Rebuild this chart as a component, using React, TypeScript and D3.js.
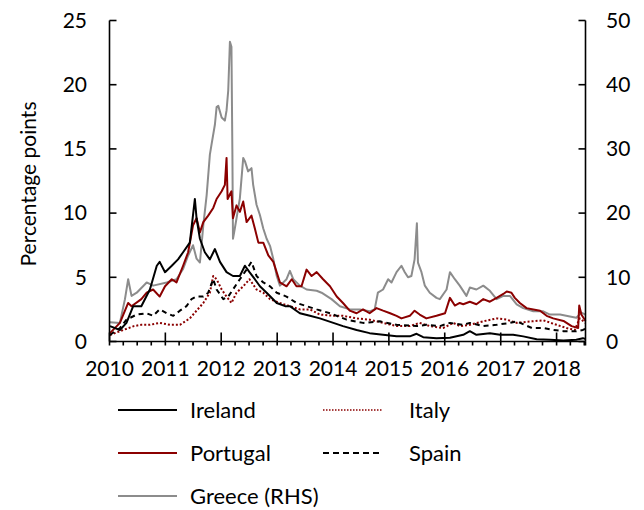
import React, { useEffect, useRef } from 'react';
import * as d3 from 'd3';

// spreads (percentage points); Greece is on the right-hand scale
const ireland: [string, number][] = [
  ['2010-01-04', 1.2], ['2010-03-10', 0.9], ['2010-04-22', 1.45], ['2010-06-05', 2.75], ['2010-07-28', 2.75],
  ['2010-09-22', 4.05], ['2010-11-06', 5.9], ['2010-11-25', 6.2], ['2010-12-30', 5.4], ['2011-02-12', 5.9],
  ['2011-03-25', 6.4], ['2011-04-27', 6.95], ['2011-06-10', 7.7], ['2011-07-13', 11.1], ['2011-07-24', 9.6],
  ['2011-08-15', 8.0], ['2011-09-16', 6.95], ['2011-10-19', 6.4], ['2011-11-21', 7.2], ['2011-12-24', 6.2],
  ['2012-02-05', 5.4], ['2012-03-18', 5.1], ['2012-05-02', 5.1], ['2012-06-04', 5.9], ['2012-07-04', 5.4],
  ['2012-08-08', 4.85], ['2012-09-10', 4.3], ['2012-10-24', 3.8], ['2012-12-29', 3.0], ['2013-02-22', 2.75],
  ['2013-03-25', 2.75], ['2013-05-29', 2.2], ['2013-08-03', 2.0], ['2013-10-07', 1.8], ['2014-01-03', 1.45],
  ['2014-03-07', 1.2], ['2014-06-04', 0.9], ['2014-08-28', 0.65], ['2014-11-24', 0.52], ['2015-02-20', 0.4],
  ['2015-05-18', 0.4], ['2015-07-01', 0.6], ['2015-08-13', 0.34], ['2015-11-08', 0.26], ['2016-02-04', 0.3],
  ['2016-05-01', 0.52], ['2016-06-13', 0.8], ['2016-07-26', 0.52], ['2016-10-22', 0.65], ['2016-12-28', 0.52],
  ['2017-03-23', 0.52], ['2017-05-28', 0.4], ['2017-08-24', 0.18], ['2017-11-19', 0.13], ['2018-02-15', 0.08],
  ['2018-05-10', 0.13], ['2018-06-22', 0.26], ['2018-07-09', 0.2],
];

const italy: [string, number][] = [
  ['2010-01-04', 0.5], ['2010-03-10', 0.8], ['2010-06-10', 1.2], ['2010-07-28', 1.3], ['2010-09-22', 1.3],
  ['2010-11-25', 1.45], ['2011-02-01', 1.3], ['2011-04-06', 1.3], ['2011-06-10', 1.8], ['2011-07-24', 2.4],
  ['2011-09-06', 3.0], ['2011-10-19', 3.8], ['2011-11-10', 5.1], ['2011-12-02', 4.85], ['2012-01-04', 4.05],
  ['2012-02-05', 3.5], ['2012-03-08', 3.0], ['2012-04-10', 3.8], ['2012-05-24', 4.3], ['2012-07-04', 4.85],
  ['2012-08-19', 4.05], ['2012-10-02', 3.8], ['2012-11-15', 3.3], ['2013-01-19', 3.0], ['2013-03-25', 2.75],
  ['2013-05-29', 2.5], ['2013-08-03', 2.5], ['2013-10-07', 2.1], ['2014-01-03', 2.0], ['2014-03-07', 2.0],
  ['2014-06-04', 1.8], ['2014-08-28', 1.7], ['2014-11-24', 1.45], ['2015-02-20', 1.2], ['2015-05-18', 1.2],
  ['2015-07-21', 1.45], ['2015-09-25', 1.2], ['2015-12-21', 1.05], ['2016-02-26', 1.45], ['2016-04-08', 1.2],
  ['2016-06-13', 1.3], ['2016-09-09', 1.57], ['2016-12-05', 1.8], ['2017-02-09', 1.7], ['2017-04-15', 1.45],
  ['2017-07-24', 1.57], ['2017-10-06', 1.65], ['2018-01-01', 1.3], ['2018-03-07', 1.05], ['2018-04-30', 0.9],
  ['2018-06-01', 1.8], ['2018-07-09', 1.45],
];

const portugal: [string, number][] = [
  ['2010-01-04', 0.65], ['2010-03-10', 1.45], ['2010-05-03', 3.0], ['2010-05-25', 2.75], ['2010-07-28', 3.3],
  ['2010-09-01', 3.8], ['2010-10-13', 4.05], ['2010-11-25', 3.5], ['2010-12-30', 4.3], ['2011-02-12', 4.85],
  ['2011-03-15', 4.6], ['2011-04-27', 5.9], ['2011-05-30', 6.95], ['2011-07-01', 9.05], ['2011-07-24', 9.6],
  ['2011-08-15', 8.5], ['2011-09-06', 9.3], ['2011-10-08', 9.8], ['2011-11-10', 10.4], ['2011-12-02', 11.1],
  ['2012-01-04', 11.7], ['2012-01-25', 12.2], ['2012-02-05', 14.3], ['2012-02-12', 11.1], ['2012-03-08', 11.7],
  ['2012-03-18', 9.6], ['2012-04-10', 10.6], ['2012-05-02', 10.1], ['2012-05-24', 10.9], ['2012-06-15', 9.3],
  ['2012-07-17', 9.8], ['2012-08-08', 8.8], ['2012-08-31', 7.7], ['2012-10-02', 7.7], ['2012-11-04', 6.7],
  ['2012-12-07', 6.2], ['2013-01-19', 4.6], ['2013-03-03', 4.3], ['2013-04-06', 4.85], ['2013-05-07', 4.3],
  ['2013-06-09', 4.3], ['2013-07-12', 5.6], ['2013-08-14', 5.1], ['2013-09-16', 5.4], ['2013-10-28', 4.85],
  ['2013-12-12', 4.3], ['2014-01-25', 3.5], ['2014-03-07', 3.0], ['2014-04-20', 2.4], ['2014-06-04', 2.2],
  ['2014-07-16', 2.5], ['2014-08-28', 2.2], ['2014-10-12', 2.6], ['2014-11-24', 2.4], ['2015-01-09', 2.2],
  ['2015-02-20', 2.0], ['2015-03-24', 1.8], ['2015-05-18', 2.0], ['2015-06-18', 2.4], ['2015-07-21', 2.1],
  ['2015-09-03', 1.8], ['2015-11-08', 2.0], ['2016-01-03', 2.2], ['2016-02-04', 3.4], ['2016-03-07', 2.8],
  ['2016-04-08', 3.0], ['2016-05-01', 2.9], ['2016-06-13', 3.1], ['2016-07-26', 2.9], ['2016-09-09', 3.3],
  ['2016-10-22', 3.1], ['2016-12-05', 3.4], ['2017-01-18', 3.7], ['2017-02-09', 3.9], ['2017-03-12', 3.8],
  ['2017-04-03', 3.4], ['2017-05-06', 3.0], ['2017-06-19', 2.6], ['2017-08-02', 2.5], ['2017-09-15', 2.4],
  ['2017-10-28', 2.0], ['2017-12-10', 1.8], ['2018-02-15', 1.6], ['2018-04-09', 1.2], ['2018-05-22', 1.05],
  ['2018-05-29', 2.8], ['2018-06-12', 2.1], ['2018-07-09', 1.6],
];

const spain: [string, number][] = [
  ['2010-01-04', 0.52], ['2010-03-10', 1.05], ['2010-04-22', 1.7], ['2010-06-28', 2.1], ['2010-09-01', 2.2],
  ['2010-10-13', 2.0], ['2010-11-25', 2.5], ['2011-01-10', 2.2], ['2011-02-22', 2.0], ['2011-04-06', 2.4],
  ['2011-05-19', 2.75], ['2011-06-21', 3.3], ['2011-07-24', 3.5], ['2011-09-06', 3.5], ['2011-10-08', 3.8],
  ['2011-11-10', 4.85], ['2011-12-02', 4.05], ['2012-01-15', 3.3], ['2012-02-16', 3.5], ['2012-03-18', 4.05],
  ['2012-05-02', 4.85], ['2012-06-15', 5.6], ['2012-07-17', 6.2], ['2012-08-19', 5.1], ['2012-10-02', 4.6],
  ['2012-11-15', 4.3], ['2012-12-29', 3.8], ['2013-03-03', 3.5], ['2013-05-07', 3.0], ['2013-07-12', 2.75],
  ['2013-09-16', 2.5], ['2013-12-12', 2.2], ['2014-03-31', 1.7], ['2014-07-16', 1.45], ['2014-11-03', 1.57],
  ['2015-02-20', 1.3], ['2015-07-01', 1.2], ['2015-09-03', 1.3], ['2015-11-30', 1.2], ['2016-02-04', 1.45],
  ['2016-05-01', 1.3], ['2016-06-13', 1.45], ['2016-09-09', 1.2], ['2016-12-05', 1.3], ['2017-03-02', 1.45],
  ['2017-04-15', 1.57], ['2017-07-24', 1.05], ['2017-10-06', 1.05], ['2017-12-10', 0.9], ['2018-02-15', 0.8],
  ['2018-05-10', 0.8], ['2018-06-22', 0.9], ['2018-07-09', 1.0],
];

const greece: [string, number][] = [
  ['2010-01-04', 3.0], ['2010-03-10', 2.9], ['2010-04-12', 6.6], ['2010-05-03', 9.7], ['2010-05-25', 7.1],
  ['2010-06-28', 7.6], ['2010-09-01', 9.2], ['2010-10-13', 8.7], ['2011-01-10', 9.2], ['2011-03-15', 9.7],
  ['2011-04-27', 11.3], ['2011-05-30', 13.4], ['2011-07-01', 15.0], ['2011-07-24', 12.9], ['2011-08-15', 12.3],
  ['2011-09-06', 18.1], ['2011-09-28', 22.8], ['2011-10-19', 29.1], ['2011-10-30', 30.7], ['2011-11-21', 33.8],
  ['2011-12-02', 36.5], ['2011-12-13', 36.7], ['2012-01-04', 34.9], ['2012-01-25', 34.4], ['2012-02-05', 36.0],
  ['2012-02-16', 39.1], ['2012-02-27', 46.7], ['2012-03-08', 45.9], ['2012-03-14', 30.0], ['2012-03-18', 16.0],
  ['2012-03-30', 17.6], ['2012-05-02', 22.3], ['2012-05-24', 28.6], ['2012-06-04', 28.1], ['2012-06-25', 26.5],
  ['2012-07-17', 27.0], ['2012-07-28', 24.4], ['2012-08-19', 21.3], ['2012-09-10', 19.7], ['2012-10-02', 17.6],
  ['2012-10-24', 16.0], ['2012-11-15', 14.9], ['2012-12-07', 12.8], ['2012-12-29', 10.2], ['2013-01-19', 8.7],
  ['2013-03-03', 9.7], ['2013-03-25', 11.0], ['2013-04-16', 9.7], ['2013-05-29', 8.7], ['2013-07-12', 8.1],
  ['2013-09-16', 7.9], ['2013-10-18', 7.6], ['2013-12-22', 6.6], ['2014-02-15', 5.5], ['2014-04-20', 5.0],
  ['2014-06-25', 5.0], ['2014-08-28', 4.7], ['2014-09-30', 5.0], ['2014-10-21', 7.6], ['2014-11-24', 8.1],
  ['2014-12-27', 9.7], ['2015-01-18', 9.2], ['2015-02-20', 10.8], ['2015-03-24', 11.8], ['2015-04-15', 10.8],
  ['2015-05-06', 10.0], ['2015-05-28', 10.2], ['2015-06-18', 12.8], ['2015-07-03', 18.4], ['2015-07-10', 12.3],
  ['2015-08-02', 10.8], ['2015-08-24', 8.7], ['2015-09-25', 7.6], ['2015-11-08', 6.8], ['2015-11-30', 6.6],
  ['2016-01-13', 8.1], ['2016-02-04', 10.8], ['2016-03-07', 9.7], ['2016-04-08', 8.7], ['2016-05-22', 7.1],
  ['2016-06-13', 8.4], ['2016-07-26', 8.1], ['2016-09-09', 8.7], ['2016-10-22', 7.9], ['2016-12-05', 6.6],
  ['2017-01-18', 7.1], ['2017-03-02', 7.1], ['2017-04-15', 5.8], ['2017-05-28', 5.2], ['2017-08-02', 4.7],
  ['2017-10-06', 4.7], ['2017-11-19', 4.2], ['2018-01-24', 4.2], ['2018-03-29', 3.9], ['2018-05-10', 3.7],
  ['2018-06-12', 4.5], ['2018-07-09', 4.2],
];

const yearLabels = ['2010', '2011', '2012', '2013', '2014', '2015', '2016', '2017', '2018'];
const leftTicks = [0, 5, 10, 15, 20, 25];
const rightTicks = [0, 10, 20, 30, 40, 50];

const series = [
  { name: 'Greece (RHS)', data: greece, rhs: true, color: '#8c8c8c', dash: null },
  { name: 'Italy', data: italy, rhs: false, color: '#8b0000', dash: '2,2' },
  { name: 'Spain', data: spain, rhs: false, color: '#000000', dash: '5,4' },
  { name: 'Portugal', data: portugal, rhs: false, color: '#8b0000', dash: null },
  { name: 'Ireland', data: ireland, rhs: false, color: '#000000', dash: null },
];

// legend layout: [series name, column, row]
const legendOrder: [string, number, number][] = [
  ['Ireland', 0, 0], ['Italy', 1, 0], ['Portugal', 0, 1], ['Spain', 1, 1], ['Greece (RHS)', 0, 2],
];

const FONT = 'Lato, "Open Sans", sans-serif';

const App = () => {
  const ref = useRef<SVGSVGElement | null>(null);

  useEffect(() => {
    const svg = d3.select(ref.current);
    svg.selectAll('*').remove();

    const left = 109.5, right = 585.5, top = 20.5, bottom = 341.5;
    const parse = d3.timeParse('%Y-%m-%d');
    const start = new Date(2010, 0, 1);
    const end = new Date(2018, 6, 9);

    const x = d3.scaleTime().domain([start, end]).range([left, right]);
    const yL = d3.scaleLinear().domain([0, 25]).range([bottom, top]);
    const yR = d3.scaleLinear().domain([0, 50]).range([bottom, top]);

    // series
    series.forEach(s => {
      const y = s.rhs ? yR : yL;
      const line = d3.line<[string, number]>()
        .x(d => x(parse(d[0]) as Date))
        .y(d => y(d[1]));
      svg.append('path')
        .datum(s.data)
        .attr('fill', 'none')
        .attr('stroke', s.color)
        .attr('stroke-width', 2)
        .attr('stroke-linejoin', 'round')
        .attr('stroke-dasharray', s.dash)
        .attr('d', line);
    });

    // axes lines
    const ax = svg.append('g').attr('stroke', '#000').attr('stroke-width', 1.6);
    ax.append('line').attr('x1', left).attr('x2', left).attr('y1', top).attr('y2', bottom);
    ax.append('line').attr('x1', right).attr('x2', right).attr('y1', top).attr('y2', bottom);
    ax.append('line').attr('x1', left).attr('x2', right).attr('y1', bottom).attr('y2', bottom);

    leftTicks.forEach(t => {
      ax.append('line').attr('x1', left).attr('x2', left + 7).attr('y1', yL(t)).attr('y2', yL(t));
    });
    rightTicks.forEach(t => {
      ax.append('line').attr('x1', right - 7).attr('x2', right).attr('y1', yR(t)).attr('y2', yR(t));
    });

    const quarters = d3.timeMonth.every(3)!.range(start, end);
    quarters.forEach(q => {
      const major = q.getMonth() === 0;
      ax.append('line')
        .attr('x1', x(q)).attr('x2', x(q))
        .attr('y1', major ? bottom - 9 : bottom)
        .attr('y2', bottom + 4);
    });
    ax.append('line').attr('x1', right).attr('x2', right).attr('y1', bottom).attr('y2', bottom + 4);

    const txt = svg.append('g').attr('font-family', FONT).attr('font-size', 21).attr('fill', '#000');

    leftTicks.forEach(t => {
      txt.append('text').attr('x', 87).attr('y', yL(t)).attr('dy', '0.35em')
        .attr('text-anchor', 'end').text(t);
    });
    rightTicks.forEach(t => {
      txt.append('text').attr('x', 606).attr('y', yR(t)).attr('dy', '0.35em')
        .attr('text-anchor', 'start').text(t);
    });
    yearLabels.forEach(l => {
      txt.append('text').attr('x', x(new Date(+l, 0, 1))).attr('y', 376)
        .attr('text-anchor', 'middle').text(l);
    });

    txt.append('text')
      .attr('transform', 'translate(36,184) rotate(-90)')
      .attr('text-anchor', 'middle')
      .attr('font-size', 21)
      .text('Percentage points');

    // legend
    const colX = [118, 323];
    const textX = [190, 409];
    const rowY = [410, 453, 496];
    legendOrder.forEach(([name, c, r]) => {
      const s = series.find(d => d.name === name)!;
      svg.append('line')
        .attr('x1', colX[c]).attr('x2', colX[c] + 59)
        .attr('y1', rowY[r]).attr('y2', rowY[r])
        .attr('stroke', s.color)
        .attr('stroke-width', s.dash === '2,2' ? 1.5 : 1.8)
        .attr('stroke-dasharray', s.dash === '2,2' ? '1.5,1.5' : s.dash ? '6,4' : null);
      txt.append('text').attr('x', textX[c]).attr('y', rowY[r]).attr('dy', '0.35em')
        .attr('font-size', 22).text(name);
    });
  }, []);

  return (
    <svg ref={ref} width={644} height={510}
      style={{ position: 'absolute', left: 0, top: 0, background: '#fff' }} />
  );
};

export default App;
